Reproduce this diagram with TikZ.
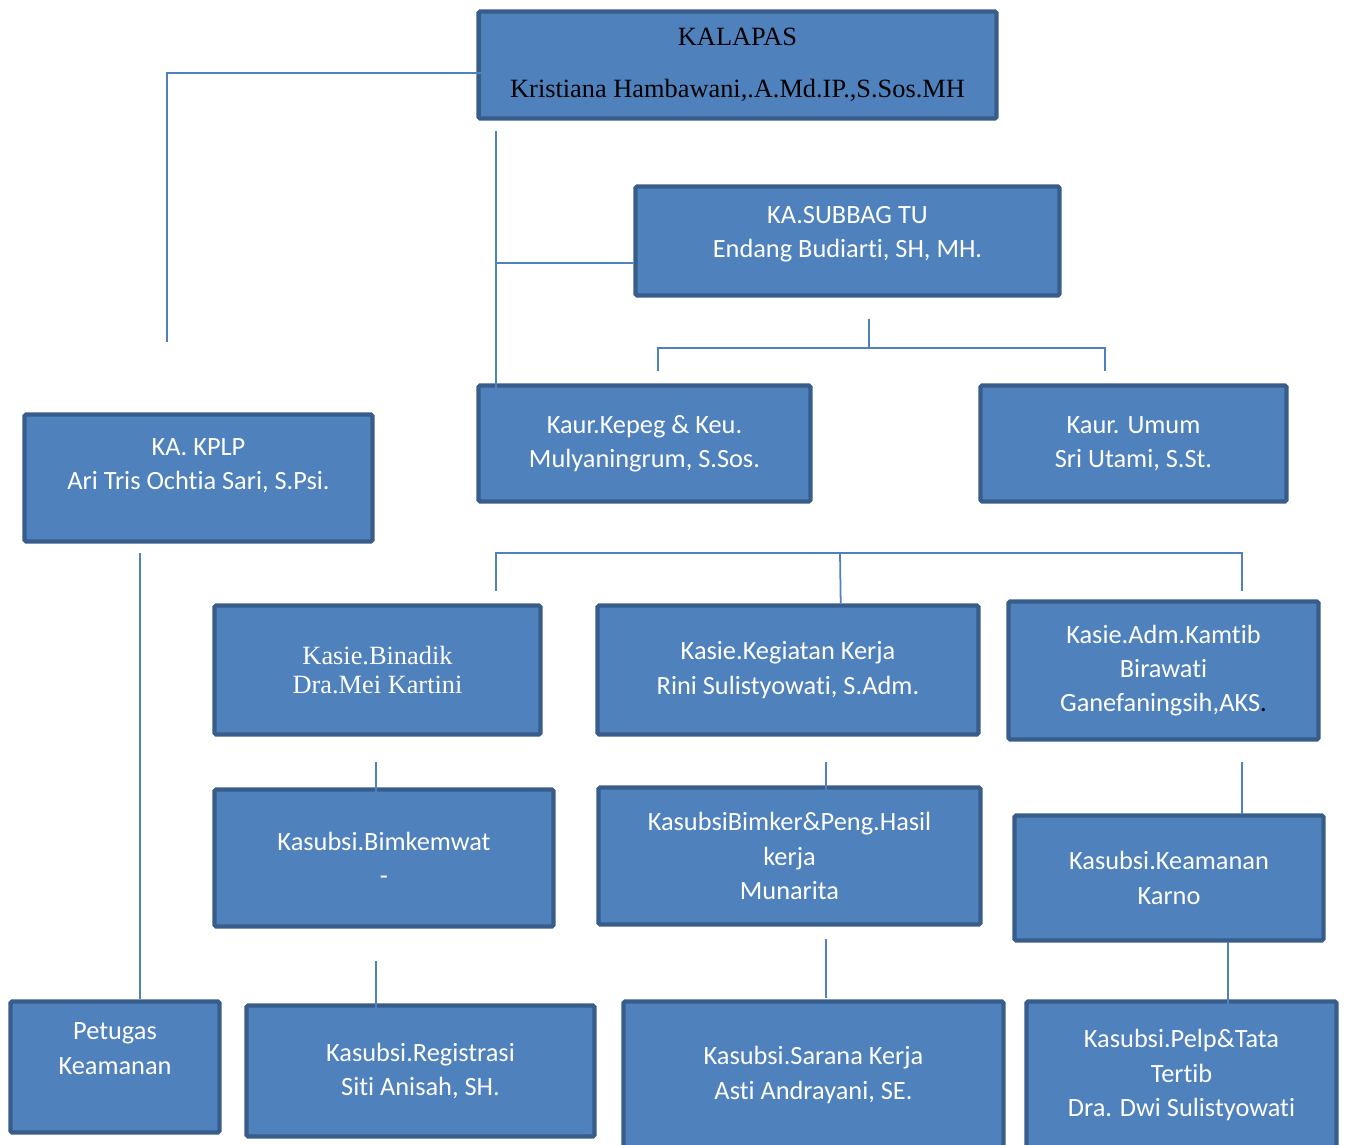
\documentclass[tikz,border=0pt]{standalone}
\usepackage{fontspec}
\setmainfont{Carlito}[Ligatures=NoCommon]
\newfontfamily\timesfont{Liberation Serif}

\definecolor{boxfill}{HTML}{4F81BD}
\definecolor{boxline}{HTML}{385D8A}

\tikzset{
  unitbox/.style={draw=boxline, fill=boxfill, line width=2.5pt, rounded corners=1pt,
    align=center, text=white, inner sep=0pt, font=\fontsize{15}{19.5}\selectfont},
  boxtext/.style={align=center, text=white, inner sep=0pt, font=\fontsize{15}{19.5}\selectfont},
  link/.style={draw=boxfill, line width=1pt},
}

\begin{document}
\begin{tikzpicture}[x=0.02cm, y=-0.02cm]
    % Satuan: 1 = 1 px gambar asli (1345 x 1144)
    \useasboundingbox (0,0) rectangle (1345,1144);

    % Pimpinan
    \node[unitbox, minimum width=10.36cm, minimum height=2.14cm, text=black,
          font=\timesfont\fontsize{15}{29.5}\selectfont] (kalapas) at (737.5,65)
        {KALAPAS\\Kristiana Hambawani,.A.Md.IP.,S.Sos.MH};

    % Subbag TU dan urusan
    \node[unitbox, minimum width=8.48cm, minimum height=2.18cm,
          label={[boxtext, yshift=4pt]center:{KA.SUBBAG TU\\Endang Budiarti, SH, MH.}}]
        (subbag) at (847.5,241) {};
    \node[unitbox, minimum width=6.64cm, minimum height=2.32cm] (kepeg) at (644.5,443.5)
        {Kaur.Kepeg \& Keu.\\Mulyaningrum, S.Sos.};
    \node[unitbox, minimum width=6.12cm, minimum height=2.32cm] (umum) at (1133.5,443.5)
        {Kaur. Umum\\Sri Utami, S.St.};

    % KPLP
    \node[unitbox, minimum width=6.96cm, minimum height=2.54cm,
          label={[boxtext, yshift=7pt]center:{KA. KPLP\\Ari Tris Ochtia Sari, S.Psi.}}]
        (kplp) at (198.5,478) {};
    \node[unitbox, minimum width=4.18cm, minimum height=2.62cm,
          label={[boxtext, yshift=10.5pt]center:{Petugas\\Keamanan}}]
        (petugas) at (115,1067) {};

    % Seksi
    \node[unitbox, minimum width=6.52cm, minimum height=2.58cm,
          font=\timesfont\fontsize{15}{17}\selectfont] (binadik) at (377.5,670)
        {Kasie.Binadik\\Dra.Mei Kartini};
    \node[unitbox, minimum width=7.62cm, minimum height=2.58cm] (kegiatan) at (788,670)
        {Kasie.Kegiatan Kerja\\Rini Sulistyowati, S.Adm.};
    \node[unitbox, minimum width=6.2cm, minimum height=2.76cm] (kamtib) at (1163.5,670.5)
        {Kasie.Adm.Kamtib\\Birawati\\Ganefaningsih,AKS\textcolor{black}{.}};

    % Subseksi baris 1
    \node[unitbox, minimum width=6.78cm, minimum height=2.74cm] (bimkemwat) at (384,858)
        {Kasubsi.Bimkemwat\\-};
    \node[unitbox, minimum width=7.64cm, minimum height=2.74cm] (bimker) at (789.5,856)
        {KasubsiBimker\&Peng.Hasil\\kerja\\Munarita};
    \node[unitbox, minimum width=6.18cm, minimum height=2.5cm] (keamanan) at (1169,878)
        {Kasubsi.Keamanan\\Karno};

    % Subseksi baris 2
    \node[unitbox, minimum width=6.96cm, minimum height=2.62cm] (registrasi) at (420.5,1071)
        {Kasubsi.Registrasi\\Siti Anisah, SH.};
    \node[unitbox, minimum width=7.6cm, minimum height=2.94cm] (sarana) at (813.5,1075)
        {Kasubsi.Sarana Kerja\\Asti Andrayani, SE.};
    \node[unitbox, minimum width=6.2cm, minimum height=2.94cm] (pelp) at (1181.5,1075)
        {Kasubsi.Pelp\&Tata\\Tertib\\Dra. Dwi Sulistyowati};

    % Titik ujung garis
    \coordinate (kplp-top) at (167,342);
    \coordinate (tu-top) at (496,131);
    \coordinate (tu-end) at (496,445);
    \coordinate (tu-stub) at (869,319);
    \coordinate (tu-fork) at (869,348);
    \coordinate (kepeg-in) at (658,371);
    \coordinate (umum-in) at (1105,371);
    \coordinate (kplp-stub) at (140,553);
    \coordinate (kasie-bar) at (840,553);
    \coordinate (binadik-in) at (496,591);
    \coordinate (kamtib-in) at (1242,591);
    \coordinate (binadik-stub) at (376,762);
    \coordinate (bimkemwat-in) at (376,798);
    \coordinate (bimkemwat-stub) at (376,961);
    \coordinate (registrasi-in) at (376,1012);
    \coordinate (kegiatan-stub) at (826,762);
    \coordinate (bimker-in) at (826,795);
    \coordinate (bimker-stub) at (826,939);
    \coordinate (sarana-in) at (826,998);
    \coordinate (kamtib-stub) at (1242,762);
    \coordinate (keamanan-in) at (1242,814);
    \coordinate (keamanan-out) at (1228,942);
    \coordinate (pelp-in) at (1228,1005);

    % Garis penghubung
    \draw[link] ([xshift=10pt, yshift=-4.5pt]kalapas.west) -| (kplp-top);
    \draw[link] (tu-top) -- (tu-end);
    \draw[link] (tu-top |- 0,263) -- ([yshift=-12.5pt]subbag.west);
    \draw[link] (tu-stub) -- (tu-fork);
    \draw[link] (kepeg-in) |- (tu-fork) -| (umum-in);
    \draw[link] (kplp-stub) -- (kplp-stub |- petugas.north);
    \draw[link] (binadik-in) |- (kasie-bar) -| (kamtib-in);
    \draw[link] (kasie-bar) -- ([xshift=30pt]kegiatan.north);
    \draw[link] (binadik-stub) -- (bimkemwat-in);
    \draw[link] (bimkemwat-stub) -- (registrasi-in);
    \draw[link] (kegiatan-stub) -- (bimker-in);
    \draw[link] (bimker-stub) -- (sarana-in);
    \draw[link] (kamtib-stub) -- (keamanan-in);
    \draw[link] (keamanan-out) -- (pelp-in);
\end{tikzpicture}
\end{document}
